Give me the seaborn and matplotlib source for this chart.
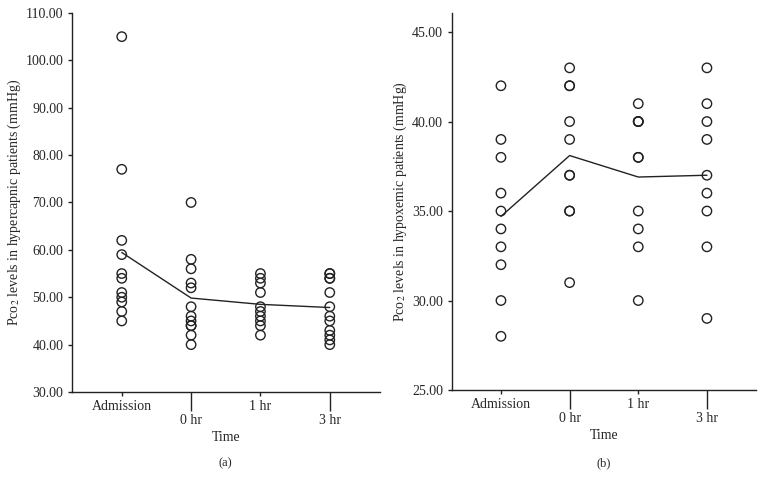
import numpy as np
import pandas as pd
import seaborn as sns
import matplotlib.pyplot as plt

# Time points
times = ["Admission", "0 hr", "1 hr", "3 hr"]

# (a) hypercapnic patients, PCO2 (mmHg)
hyper_adm = [105, 77, 62, 59, 55, 54, 51, 50, 49, 47, 45]
hyper_0h = [70, 58, 56, 53, 52, 48, 46, 45, 44, 44, 42, 40]
hyper_1h = [55, 54, 53, 51, 48, 47, 46, 45, 44, 42]
hyper_3h = [55, 55, 54, 54, 51, 48, 46, 45, 43, 42, 41, 40]

# (b) hypoxemic patients, PCO2 (mmHg)
hypo_adm = [42, 39, 38, 36, 35, 34, 33, 32, 30, 28]
hypo_0h = [43, 42, 42, 40, 39, 37, 37, 35, 35, 31]
hypo_1h = [41, 40, 40, 40, 38, 38, 35, 34, 33, 30]
hypo_3h = [43, 41, 40, 39, 37, 36, 35, 33, 29]


def make_df(groups):
    rows = []
    for i, vals in enumerate(groups):
        for v in vals:
            rows.append({"pos": i, "time": times[i], "pco2": v})
    return pd.DataFrame(rows)


hyper = make_df([hyper_adm, hyper_0h, hyper_1h, hyper_3h])
hypo = make_df([hypo_adm, hypo_0h, hypo_1h, hypo_3h])

sns.set_style("ticks")
plt.rcParams["font.family"] = ["Liberation Serif", "DejaVu Serif"]
plt.rcParams["mathtext.fontset"] = "stix"

fig = plt.figure(figsize=(7.64, 4.91), dpi=100)
ax_a = fig.add_axes([0.094, 0.2016, 0.403, 0.772])
ax_b = fig.add_axes([0.591, 0.2057, 0.399, 0.768])

FS = 10


def draw(ax, df, ylim, yticks, ylabel, tag):
    sns.lineplot(data=df, x="pos", y="pco2", estimator="mean", errorbar=None,
                 color="#222222", lw=1, ax=ax)
    sns.scatterplot(data=df, x="pos", y="pco2", marker="o", s=46,
                    facecolor="none", edgecolor="#222222", linewidth=1, ax=ax)
    ax.set_xlim(-0.72, 3.72)
    ax.set_ylim(*ylim)
    ax.set_yticks(yticks)
    ax.set_yticklabels([f"{t:.2f}" for t in yticks])
    # staggered category labels: short ticks for 1st row, long for 2nd row
    ax.set_xticks([0, 2])
    ax.set_xticklabels([times[0], times[2]])
    ax.set_xticks([1, 3], minor=True)
    ax.set_xticklabels([times[1], times[3]], minor=True)
    ax.tick_params(axis="x", which="major", length=3, width=1, pad=3,
                   color="#222222", labelsize=FS)
    ax.tick_params(axis="x", which="minor", length=14, width=1, pad=2,
                   color="#222222", labelsize=FS)
    ax.tick_params(axis="y", length=3, width=1, pad=3, color="#222222",
                   labelsize=FS)
    ax.set_xlabel("Time", fontsize=FS, labelpad=3)
    ax.set_ylabel(ylabel, fontsize=FS, labelpad=2)
    for s in ["top", "right"]:
        ax.spines[s].set_visible(False)
    for s in ["left", "bottom"]:
        ax.spines[s].set_linewidth(1)
        ax.spines[s].set_color("#222222")
    pos = ax.get_position()
    fig.text((pos.x0 + pos.x1) / 2, 1 - 463 / 491, tag, ha="center",
             va="center", fontsize=9)


draw(ax_a, hyper, (30, 110), np.arange(30, 111, 10),
     "Pco$_2$ levels in hypercapnic patients (mmHg)", "(a)")
draw(ax_b, hypo, (25, 46.07), np.arange(25, 46, 5),
     "Pco$_2$ levels in hypoxemic patients (mmHg)", "(b)")

fig.savefig("out.png", dpi=100)
